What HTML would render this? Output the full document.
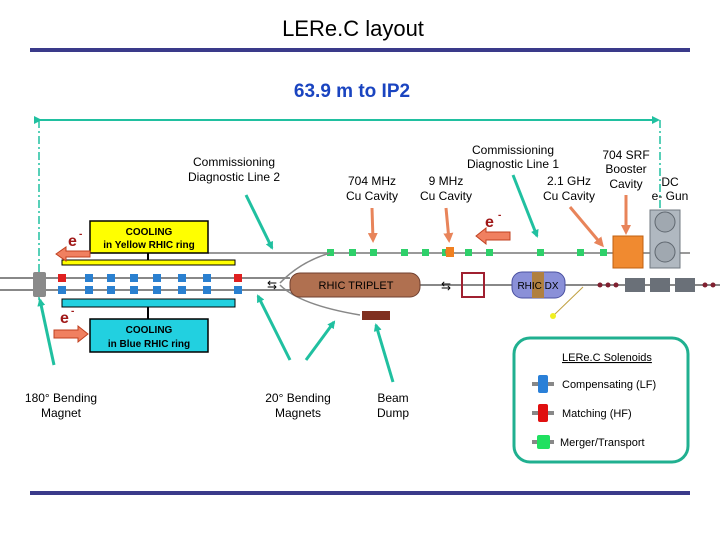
<!DOCTYPE html>
<html><head><meta charset="utf-8"><style>
html,body{margin:0;padding:0;background:#fff;width:720px;height:540px;overflow:hidden}
svg{display:block}
text{font-family:"Liberation Sans",Arial,sans-serif}
</style></head><body>
<svg width="720" height="540" viewBox="0 0 720 540" xmlns="http://www.w3.org/2000/svg">
<defs>
<marker id="ta" markerWidth="8" markerHeight="8" refX="6" refY="4" orient="auto" markerUnits="userSpaceOnUse"><path d="M0,0 L8,4 L0,8 z" fill="#20c0a0"/></marker>
<marker id="oa" markerWidth="10" markerHeight="10" refX="7" refY="5" orient="auto" markerUnits="userSpaceOnUse"><path d="M0,0 L10,5 L0,10 z" fill="#e8845a"/></marker>
</defs>
<text x="353" y="36" font-size="22" text-anchor="middle">LERe.C layout</text>
<rect x="30" y="48" width="660" height="4" fill="#3a3a8a"/>
<rect x="30" y="491" width="660" height="4" fill="#3a3a8a"/>
<text x="352" y="97" font-size="19" font-weight="bold" fill="#1a44c0" text-anchor="middle">63.9 m to IP2</text>
<!-- distance line -->
<line x1="40" y1="120" x2="658" y2="120" stroke="#20c0a0" stroke-width="2" marker-start="url(#ta)" marker-end="url(#ta)"/>
<line x1="39" y1="120" x2="39" y2="300" stroke="#20c0a0" stroke-width="1.5" stroke-dasharray="8,3,2,3"/>
<line x1="660" y1="120" x2="660" y2="215" stroke="#20c0a0" stroke-width="1.5" stroke-dasharray="8,3,2,3"/>
<!-- labels -->
<g font-size="12" text-anchor="middle">
<text x="234" y="166">Commissioning</text><text x="234" y="181">Diagnostic Line 2</text>
<text x="372" y="185">704 MHz</text><text x="372" y="200">Cu Cavity</text>
<text x="446" y="185">9 MHz</text><text x="446" y="200">Cu Cavity</text>
<text x="513" y="154">Commissioning</text><text x="513" y="168">Diagnostic Line 1</text>
<text x="569" y="185">2.1 GHz</text><text x="569" y="200">Cu Cavity</text>
<text x="626" y="159">704 SRF</text><text x="626" y="173">Booster</text><text x="626" y="188">Cavity</text>
<text x="670" y="186">DC</text><text x="670" y="200">e- Gun</text>
<text x="61" y="402">180° Bending</text><text x="61" y="417">Magnet</text>
<text x="298" y="402">20° Bending</text><text x="298" y="417">Magnets</text>
<text x="393" y="402">Beam</text><text x="393" y="417">Dump</text>
</g>
<!-- upper line -->
<line x1="208" y1="253" x2="690" y2="253" stroke="#999" stroke-width="2"/>
<g fill="#2ed06a">
<rect x="327" y="249" width="7" height="7"/><rect x="349" y="249" width="7" height="7"/><rect x="370" y="249" width="7" height="7"/><rect x="401" y="249" width="7" height="7"/><rect x="422" y="249" width="7" height="7"/><rect x="442" y="249" width="7" height="7"/><rect x="465" y="249" width="7" height="7"/><rect x="486" y="249" width="7" height="7"/><rect x="537" y="249" width="7" height="7"/><rect x="577" y="249" width="7" height="7"/><rect x="600" y="249" width="7" height="7"/>
</g>
<circle cx="448" cy="252" r="3" fill="#c07040"/>
<rect x="446" y="247" width="8" height="10" fill="#f08020"/>
<rect x="613" y="236" width="30" height="32" fill="#f08a30" stroke="#c06010"/>
<rect x="650" y="210" width="30" height="58" fill="#b0b8c0" stroke="#707880"/>
<circle cx="665" cy="222" r="10" fill="#a0a8b0" stroke="#606870"/>
<circle cx="665" cy="252" r="10" fill="#a0a8b0" stroke="#606870"/>
<!-- lower RHIC line -->
<line x1="0" y1="278" x2="290" y2="278" stroke="#888" stroke-width="2"/>
<line x1="0" y1="290" x2="290" y2="290" stroke="#888" stroke-width="2"/>
<line x1="420" y1="285" x2="720" y2="285" stroke="#888" stroke-width="2"/>
<g fill="#802030"><circle cx="600" cy="285" r="2.5"/><circle cx="608" cy="285" r="2.5"/><circle cx="616" cy="285" r="2.5"/><circle cx="705" cy="285" r="2.5"/><circle cx="713" cy="285" r="2.5"/></g>
<g fill="#6a7078"><rect x="625" y="278" width="20" height="14"/><rect x="650" y="278" width="20" height="14"/><rect x="675" y="278" width="20" height="14"/></g>
<rect x="33" y="272" width="13" height="25" fill="#8a8a8a" rx="2"/>
<rect x="62" y="260" width="173" height="5" fill="#ffff00" stroke="#000"/>
<rect x="62" y="299" width="173" height="8" fill="#22d0e0" stroke="#000"/>
<g fill="#2a80d0">
<rect x="85" y="274" width="8" height="8"/><rect x="107" y="274" width="8" height="8"/><rect x="130" y="274" width="8" height="8"/><rect x="153" y="274" width="8" height="8"/><rect x="178" y="274" width="8" height="8"/><rect x="203" y="274" width="8" height="8"/>
<rect x="85" y="286" width="8" height="8"/><rect x="107" y="286" width="8" height="8"/><rect x="130" y="286" width="8" height="8"/><rect x="153" y="286" width="8" height="8"/><rect x="178" y="286" width="8" height="8"/><rect x="203" y="286" width="8" height="8"/>
<rect x="58" y="286" width="8" height="8"/><rect x="234" y="286" width="8" height="8"/>
</g>
<rect x="58" y="274" width="8" height="8" fill="#e02020"/><rect x="234" y="274" width="8" height="8" fill="#e02020"/>
<line x1="148" y1="253" x2="148" y2="260" stroke="#000" stroke-width="2"/>
<line x1="148" y1="307" x2="148" y2="319" stroke="#000" stroke-width="2"/>
<rect x="90" y="221" width="118" height="32" fill="#ffff00" stroke="#000" stroke-width="1.5"/>
<text x="149" y="235" font-size="10" font-weight="bold" text-anchor="middle">COOLING</text>
<text x="149" y="248" font-size="10" font-weight="bold" text-anchor="middle">in Yellow RHIC ring</text>
<rect x="90" y="319" width="118" height="33" fill="#22d0e0" stroke="#000" stroke-width="1.5"/>
<text x="149" y="333" font-size="10" font-weight="bold" text-anchor="middle">COOLING</text>
<text x="149" y="347" font-size="10" font-weight="bold" text-anchor="middle">in Blue RHIC ring</text>
<!-- branches -->
<path d="M280,283 Q300,262 330,253" fill="none" stroke="#888" stroke-width="1.5"/>
<path d="M280,285 Q300,305 360,315" fill="none" stroke="#888" stroke-width="1.5"/>
<rect x="362" y="311" width="28" height="9" fill="#803020"/>
<line x1="432" y1="253" x2="432" y2="253" stroke="#888"/>
<!-- triplet -->
<rect x="290" y="273" width="130" height="24" rx="10" fill="#b07050" stroke="#704030"/>
<text x="356" y="289" font-size="11" text-anchor="middle">RHIC TRIPLET</text>
<rect x="462" y="273" width="22" height="24" fill="none" stroke="#a02030" stroke-width="2"/>
<rect x="512" y="272" width="53" height="26" rx="10" fill="#8a90d8" stroke="#4a50a0"/>
<rect x="532" y="272" width="12" height="26" fill="#b08040"/>
<text x="538" y="289" font-size="10" text-anchor="middle">RHIC DX</text>
<line x1="583" y1="287" x2="553" y2="316" stroke="#c0a040"/>
<circle cx="553" cy="316" r="3" fill="#f0f020"/>
<text x="272" y="289" font-size="12" text-anchor="middle">⇆</text>
<text x="446" y="290" font-size="12" text-anchor="middle">⇆</text>
<!-- e- arrows -->
<g font-size="16" font-weight="bold" fill="#a01818">
<text x="68" y="246">e</text><text x="79" y="237" font-size="10">-</text>
<text x="60" y="323">e</text><text x="71" y="314" font-size="10">-</text>
<text x="485" y="227">e</text><text x="498" y="218" font-size="10">-</text>
</g>
<path d="M90,248 L66,248 M56,253" stroke="none"/>
<polygon points="56,254 66,247 66,251 90,251 90,257 66,257 66,261" fill="#f08060" stroke="#c04020"/>
<polygon points="54,330 78,330 78,326 88,334 78,342 78,338 54,338" fill="#f08060" stroke="#c04020"/>
<polygon points="476,236 486,228 486,232 510,232 510,240 486,240 486,244" fill="#f08060" stroke="#c04020"/>
<!-- orange arrows -->
<g stroke="#e8845a" stroke-width="3" marker-end="url(#oa)">
<line x1="372" y1="208" x2="373" y2="240"/>
<line x1="446" y1="208" x2="449" y2="240"/>
<line x1="570" y1="207" x2="602" y2="245"/>
<line x1="626" y1="195" x2="626" y2="232"/>
</g>
<!-- teal arrows -->
<g stroke="#20c0a0" stroke-width="3" marker-end="url(#ta)">
<line x1="246" y1="195" x2="272" y2="248"/>
<line x1="513" y1="175" x2="537" y2="236"/>
<line x1="54" y1="365" x2="40" y2="300"/>
<line x1="290" y1="360" x2="258" y2="296"/>
<line x1="306" y1="360" x2="334" y2="322"/>
<line x1="393" y1="382" x2="376" y2="325"/>
</g>
<!-- legend -->
<rect x="514" y="338" width="174" height="124" rx="16" fill="#fff" stroke="#20b090" stroke-width="3"/>
<text x="562" y="361" font-size="11" text-decoration="underline">LERe.C Solenoids</text>
<g font-size="11">
<text x="562" y="388">Compensating (LF)</text>
<text x="562" y="417">Matching (HF)</text>
<text x="560" y="446">Merger/Transport</text>
</g>
<rect x="532" y="382" width="22" height="4" fill="#888"/><rect x="538" y="375" width="10" height="18" rx="2" fill="#2a80d8"/>
<rect x="532" y="411" width="22" height="4" fill="#888"/><rect x="538" y="404" width="10" height="18" rx="2" fill="#e01010"/>
<rect x="532" y="440" width="22" height="4" fill="#888"/><rect x="537" y="435" width="13" height="14" rx="2" fill="#20e060"/>
</svg>
</body></html>
